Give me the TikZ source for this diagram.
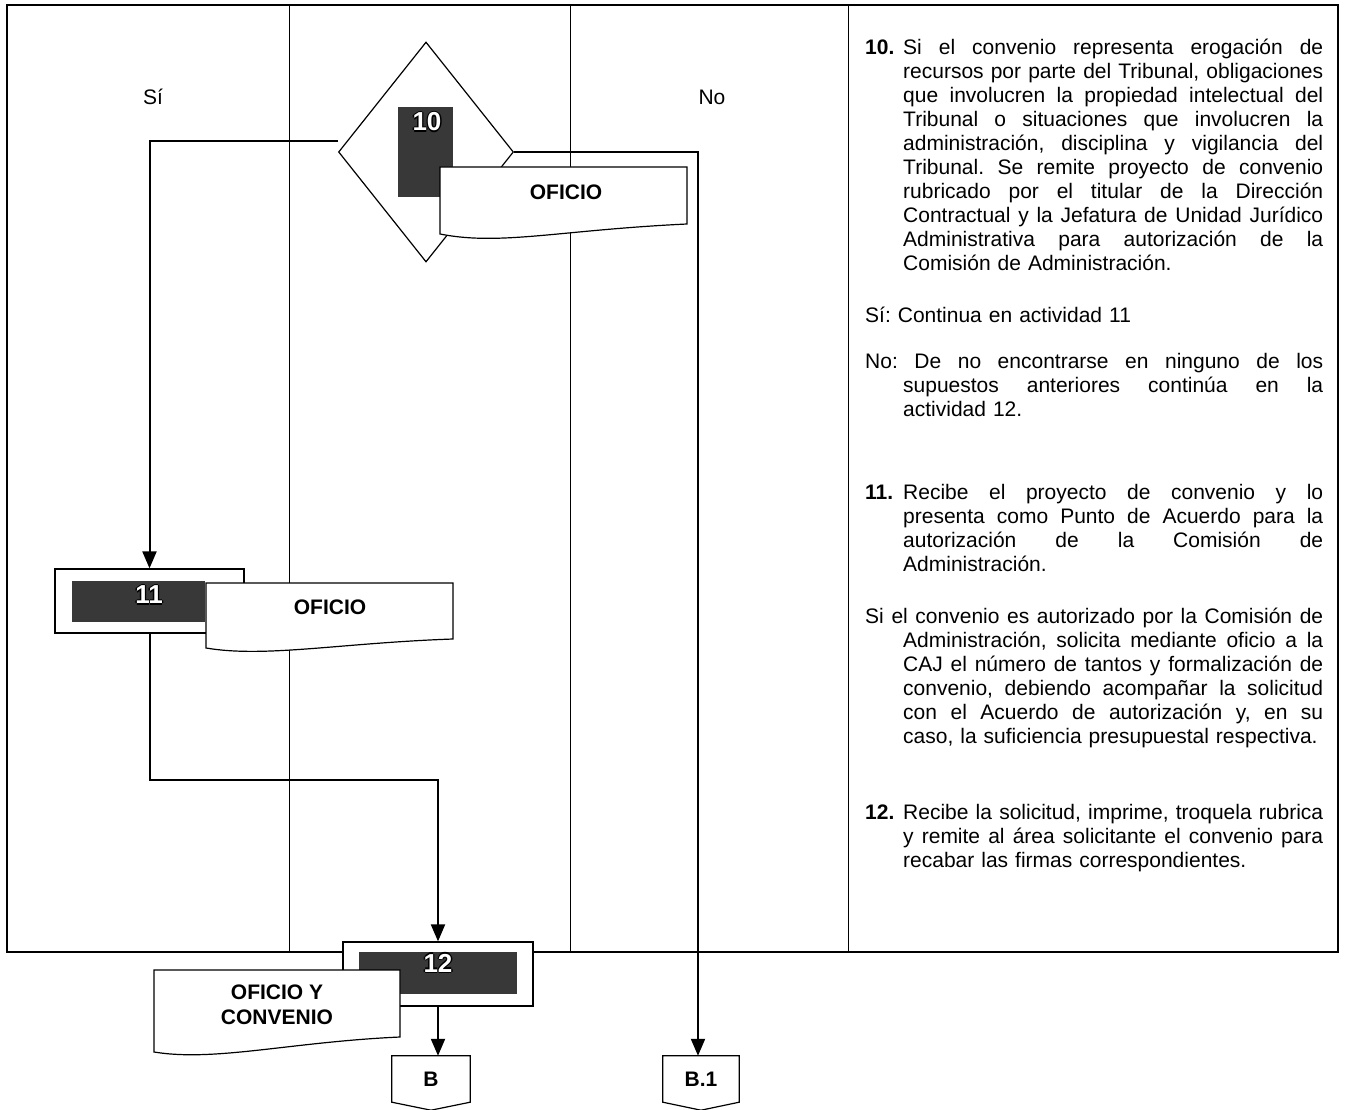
\documentclass[tikz,border=0pt]{standalone}
\usepackage{fontspec}
\setmainfont{Liberation Sans}
\usetikzlibrary{shapes.geometric,arrows.meta,calc}
\newcommand{\fl}[2]{\hbox to #1{\spaceskip=\fontdimen2\font plus 1fil\relax\xspaceskip=\spaceskip #2}}
\newcommand{\lbl}[1]{\hbox to 38pt{\textbf{#1}\hss}}
\newcommand{\ind}{\hspace*{38pt}}
\newcommand{\outnum}[1]{\leavevmode\rlap{\kern-1.3pt\textcolor{black}{#1}}\rlap{\kern1.3pt\textcolor{black}{#1}}\rlap{\raisebox{1.3pt}{\textcolor{black}{#1}}}\rlap{\raisebox{-1.3pt}{\textcolor{black}{#1}}}\textcolor{white}{#1}}
\frenchspacing
\begin{document}
\begin{tikzpicture}[x=1pt,y=-1pt,
  frame/.style={line width=1.3pt},
  lane/.style={line width=1pt},
  conn/.style={line width=2pt,-{Triangle[width=14pt,length=17pt]}},
  shp/.style={draw,line width=1.2pt,fill=white},
  boxnode/.style={draw,line width=1.2pt,fill=white,inner sep=0pt},
  dark/.style={fill=black!78,draw=none,inner sep=0pt},
  num/.style={font=\fontsize{26}{28}\selectfont\bfseries,inner sep=0pt},
  txt/.style={font=\fontsize{21}{24}\selectfont\frenchspacing,inner sep=0pt},
  btxt/.style={font=\fontsize{21}{25}\selectfont\bfseries,inner sep=0pt,align=center},
  para/.style={txt,anchor=base west,text width=460pt,align=left}]
\useasboundingbox (0,0) rectangle (1345,1110);

% table
\draw[frame] (7,5) rectangle (1338,952);
\draw[lane] (289,5) -- (289,952);
\draw[lane] (570,5) -- (570,952);
\draw[lane] (848,5) -- (848,952);

% lane labels
\node[txt] (lsi) at (153,97) {Sí};
\node[txt] (lno) at (712,97) {No};

% description column
\node[para] (p10) at (865,54.5) {\lbl{10.}\fl{420pt}{Si el convenio representa erogación de}\\
\ind\fl{420pt}{recursos por parte del Tribunal, obligaciones}\\
\ind\fl{420pt}{que involucren la propiedad intelectual del}\\
\ind\fl{420pt}{Tribunal o situaciones que involucren la}\\
\ind\fl{420pt}{administración, disciplina y vigilancia del}\\
\ind\fl{420pt}{Tribunal. Se remite proyecto de convenio}\\
\ind\fl{420pt}{rubricado por el titular de la Dirección}\\
\ind\fl{420pt}{Contractual y la Jefatura de Unidad Jurídico}\\
\ind\fl{420pt}{Administrativa para autorización de la}\\
\ind Comisión de Administración.};
\node[para] (psi) at (865,322.5) {Sí: Continua en actividad 11};
\node[para] (pno) at (865,368.5) {\fl{458pt}{No: De no encontrarse en ninguno de los}\\
\ind\fl{420pt}{supuestos anteriores continúa en la}\\
\ind actividad 12.};
\node[para] (p11) at (865,499.5) {\lbl{11.}\fl{420pt}{Recibe el proyecto de convenio y lo}\\
\ind\fl{420pt}{presenta como Punto de Acuerdo para la}\\
\ind\fl{420pt}{autorización de la Comisión de}\\
\ind Administración.};
\node[para] (paut) at (865,623.5) {\fl{458pt}{Si el convenio es autorizado por la Comisión de}\\
\ind\fl{420pt}{Administración, solicita mediante oficio a la}\\
\ind\fl{420pt}{CAJ el número de tantos y formalización de}\\
\ind\fl{420pt}{convenio, debiendo acompañar la solicitud}\\
\ind\fl{420pt}{con el Acuerdo de autorización y, en su}\\
\ind caso, la suficiencia presupuestal respectiva.};
\node[para] (p12) at (865,819.5) {\lbl{12.}\fl{420pt}{Recibe la solicitud, imprime, troquela rubrica}\\
\ind\fl{420pt}{y remite al área solicitante el convenio para}\\
\ind recabar las firmas correspondientes.};

% activity 10 (decision)
\node[diamond,draw,line width=1.2pt,fill=white,minimum width=175pt,minimum height=220pt,inner sep=0pt] (d) at (426,152) {};
\node[dark,minimum width=55pt,minimum height=90pt] (d10) at (425.5,152) {};
\node[num] (n10) at (427,122) {\outnum{10}};
\path[shp] (440,167) -- (687,167) -- (687,224) .. controls (560,230) and (500,246) .. (440,234) -- cycle;
\node[btxt] (o1) at (566,192) {OFICIO};

% activity 11
\node[boxnode,minimum width=189pt,minimum height=64pt] (b11) at (149.5,601) {};
\node[dark,minimum width=133pt,minimum height=41pt] (d11) at (138.5,601.5) {};
\node[num] (n11) at (149,595) {\outnum{11}};
\path[shp] (206,583) -- (453,583) -- (453,639) .. controls (340,643) and (265,658) .. (206,648) -- cycle;
\node[btxt] (o2) at (330,607) {OFICIO};

% activity 12
\node[boxnode,minimum width=190pt,minimum height=64pt] (b12) at (438,974) {};
\node[dark,minimum width=158pt,minimum height=42pt] (d12) at (438,973) {};
\node[num] (n12) at (438,963) {\outnum{12}};
\path[shp] (154,970) -- (400,970) -- (400,1037) .. controls (290,1042) and (215,1062) .. (154,1052) -- cycle;
\node[btxt] (o3) at (277,1004.5) {OFICIO Y\\CONVENIO};

% off-page connectors
\node[btxt,minimum width=78pt,minimum height=46pt] (B) at (431,1079) {B};
\draw[line width=1.2pt] (B.north west) -- (B.north east) -- (B.south east) -- ($(B.south)+(0,8)$) -- (B.south west) -- cycle;
\node[btxt,minimum width=76pt,minimum height=46pt] (B1) at (701,1079) {B.1};
\draw[line width=1.2pt] (B1.north west) -- (B1.north east) -- (B1.south east) -- ($(B1.south)+(0,8)$) -- (B1.south west) -- cycle;

% connectors
\coordinate (si) at (338,141);
\draw[conn] (si) -| (b11.north);
\coordinate (nobend) at (698,152);
\draw[conn] (d.east) -- (nobend) -- (nobend |- B1.north);
\coordinate (bend) at (438,780);
\draw[conn] (b11.south) |- (bend) -- (b12.north);
\draw[conn] (b12.south) -- (b12.south |- B.north);
\end{tikzpicture}
\end{document}
